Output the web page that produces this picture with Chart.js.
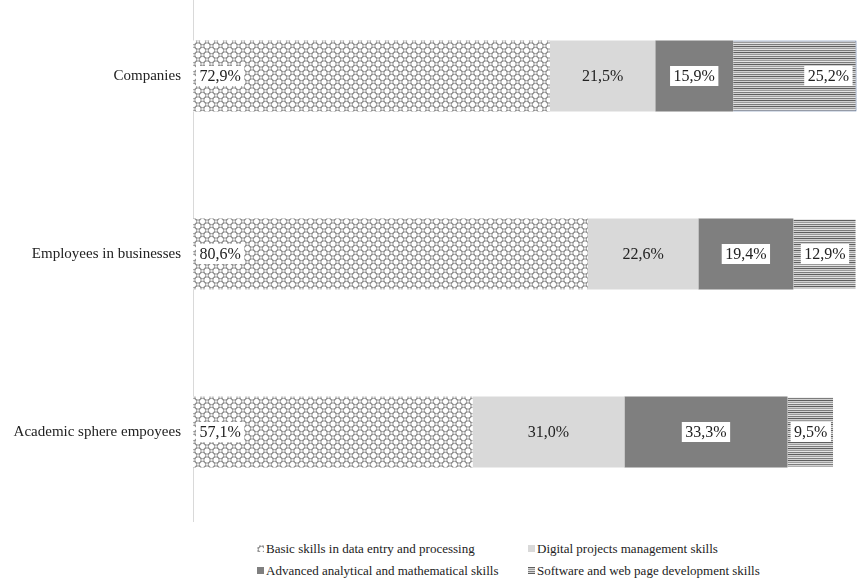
<!DOCTYPE html>
<html>
<head>
<meta charset="utf-8">
<script src="https://cdn.jsdelivr.net/npm/chart.js@4.4.1/dist/chart.umd.min.js"></script>
<style>
  body { margin: 0; background: #fff; }
  #wrap { position: relative; width: 859px; height: 583px; overflow: hidden; font-family: "Times New Roman", "Liberation Serif", "DejaVu Serif", serif; }
  #plot { position: absolute; left: 0; top: -26px; width: 859px; height: 560px; }
  .legend { position: absolute; left: 0; top: 0; font-size: 13px; color: #222; }
  .item { position: absolute; white-space: nowrap; line-height: 16px; }
  .item canvas { width: 7px; height: 7px; margin-right: 2px; vertical-align: 1px; }
</style>
</head>
<body>
<div id="wrap">
  <div id="plot"><canvas id="myChart"></canvas></div>
  <div class="legend" id="legend"></div>
</div>
<script>
const categories = ["Companies", "Employees in businesses", "Academic sphere empoyees"];
const seriesNames = [
  "Basic skills in data entry and processing",
  "Digital projects management skills",
  "Advanced analytical and mathematical skills",
  "Software and web page development skills"
];
const basicSkills = [72.9, 80.6, 57.1];
const projectSkills = [21.5, 22.6, 31.0];
const analyticSkills = [15.9, 19.4, 33.3];
const softwareSkills = [25.2, 12.9, 9.5];

const serif = "'Times New Roman', 'Liberation Serif', 'DejaVu Serif', serif";

// little lattice of rings for the first series
function ringPattern() {
  const c = document.createElement("canvas");
  c.width = 9; c.height = 9;
  const g = c.getContext("2d");
  g.fillStyle = "#fff";
  g.fillRect(0, 0, 9, 9);
  g.strokeStyle = "#8a8a8a";
  g.lineWidth = 1;
  [[0, 0], [9, 0], [0, 9], [9, 9], [4.5, 4.5]].forEach(([x, y]) => {
    g.beginPath();
    g.arc(x, y, 3.2, 0, Math.PI * 2);
    g.stroke();
  });
  return c;
}

// horizontal grey stripes for the last series
function stripePattern() {
  const c = document.createElement("canvas");
  c.width = 8; c.height = 6;
  const g = c.getContext("2d");
  const rows = ["#5e5e5e", "#cfcfcf", "#9b9b9b", "#e4e4e4", "#7c7c7c", "#d2d2d2"];
  rows.forEach((col, i) => { g.fillStyle = col; g.fillRect(0, i, 8, 1); });
  return c;
}

const ctx = document.getElementById("myChart").getContext("2d");
const rings = ctx.createPattern(ringPattern(), "repeat");
const stripes = ctx.createPattern(stripePattern(), "repeat");
const fills = [rings, "#d9d9d9", "#7f7f7f", stripes];

const fmt = v => v.toFixed(1).replace(".", ",") + "%";

// value labels inside the segments
const segmentLabels = {
  id: "segmentLabels",
  afterDatasetsDraw(chart) {
    const c = chart.ctx;
    c.save();
    c.font = "16px " + serif;
    c.textBaseline = "middle";
    chart.data.datasets.forEach((ds, di) => {
      const meta = chart.getDatasetMeta(di);
      meta.data.forEach((bar, i) => {
        const text = fmt(ds.data[i]);
        const w = c.measureText(text).width;
        const left = Math.min(bar.x, bar.base), right = Math.max(bar.x, bar.base);
        const align = ds.labelAlign[i];
        let cx;
        if (align === "start") cx = left + 3 + (w + 7) / 2;
        else if (align === "end") cx = right - 4 - (w + 7) / 2;
        else cx = (left + right) / 2;
        if (ds.labelBox) {
          c.fillStyle = "#fff";
          c.fillRect(cx - w / 2 - 3.5, bar.y - 10, w + 7, 20);
        }
        c.fillStyle = "#222";
        c.textAlign = "center";
        c.fillText(text, cx, bar.y + 1);
      });
    });
    c.restore();
  }
};

const seriesValues = [basicSkills, projectSkills, analyticSkills, softwareSkills];
const aligns = [
  ["start", "start", "start"],
  ["center", "center", "center"],
  ["center", "center", "center"],
  ["end", "center", "center"]
];

const chart = new Chart(ctx, {
  type: "bar",
  data: {
    labels: categories,
    datasets: seriesNames.map((name, k) => ({
      label: name,
      data: seriesValues[k],
      backgroundColor: fills[k],
      borderColor: k === 3 ? ["#5d77a3", "rgba(0,0,0,0)", "rgba(0,0,0,0)"] : "rgba(0,0,0,0)",
      borderWidth: k === 3 ? 1 : 0,
      categoryPercentage: 0.4,
      barPercentage: 1,
      labelAlign: aligns[k],
      labelBox: k !== 1
    }))
  },
  options: {
    indexAxis: "y",
    responsive: true,
    maintainAspectRatio: false,
    animation: false,
    layout: { padding: 0 },
    plugins: { legend: { display: false }, tooltip: { enabled: false } },
    scales: {
      x: { stacked: true, display: false, min: 0, max: 136 },
      y: {
        stacked: true,
        grid: { display: false },
        border: { display: true, color: "#d9d9d9" },
        ticks: { padding: 4, color: "#222", font: { family: serif, size: 15 } },
        afterFit(scale) { scale.width = 193; }
      }
    }
  },
  plugins: [segmentLabels]
});

// legend in two columns under the plot
const legend = document.getElementById("legend");
const spots = [[257, 541], [528, 541], [257, 563], [528, 563]];
seriesNames.forEach((name, k) => {
  const div = document.createElement("div");
  div.className = "item";
  div.style.left = spots[k][0] + "px";
  div.style.top = spots[k][1] + "px";
  const sw = document.createElement("canvas");
  sw.width = 7; sw.height = 7;
  const g = sw.getContext("2d");
  g.fillStyle = g.createPattern(k === 0 ? ringPattern() : stripePattern(), "repeat");
  if (k === 1) g.fillStyle = "#d9d9d9";
  if (k === 2) g.fillStyle = "#7f7f7f";
  g.fillRect(0, 0, 7, 7);
  div.appendChild(sw);
  div.appendChild(document.createTextNode(name));
  legend.appendChild(div);
});
</script>
</body>
</html>
